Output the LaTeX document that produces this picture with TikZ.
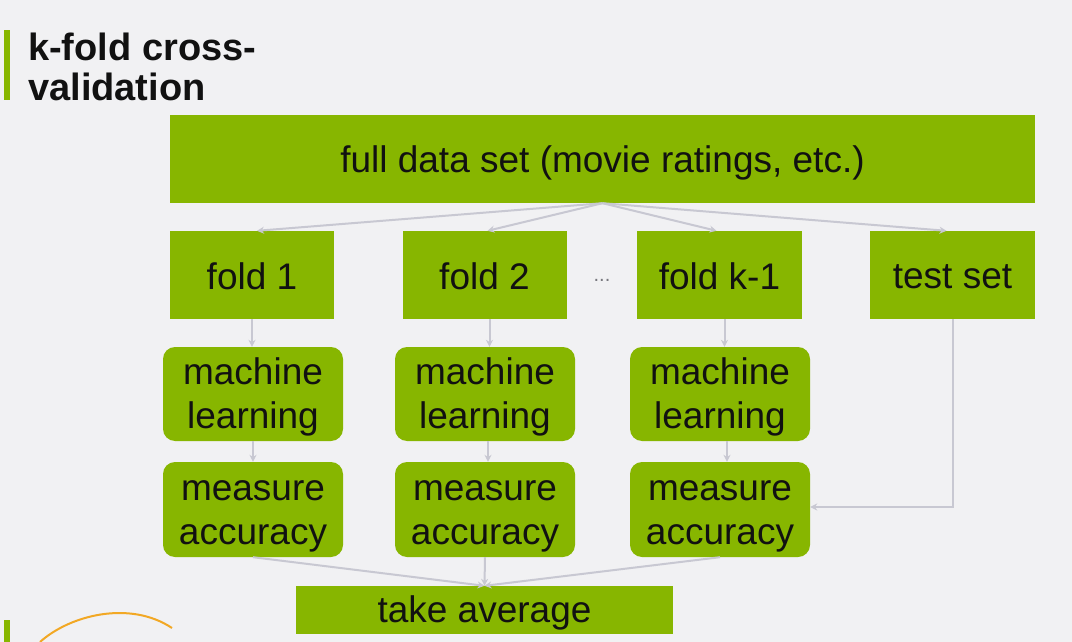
\documentclass[tikz,border=0pt]{standalone}
\usepackage{fontspec}
\setmainfont{Liberation Sans}
\usetikzlibrary{arrows.meta}
\definecolor{bg}{HTML}{F1F1F3}
\definecolor{nvgreen}{HTML}{87B600}
\definecolor{link}{HTML}{C8C8D2}
\definecolor{ink}{HTML}{111111}
\definecolor{ring}{HTML}{F2A824}
\begin{document}
\begin{tikzpicture}[x=1pt,y=-1pt,
  block/.style={fill=nvgreen,draw=none,inner sep=0pt},
  roundblock/.style={block,rounded corners=12pt},
  txt/.style={inner sep=0pt,text=ink,align=center,
    font=\fontsize{37}{43.5}\selectfont},
  titletext/.style={anchor=base west,inner sep=0pt,text=ink,
    font=\fontsize{38}{40}\selectfont\bfseries},
  link/.style={draw=link,line width=2pt,-{Stealth[length=7pt,width=7pt]}}]
\useasboundingbox (0,0) rectangle (1072,642);
\fill[bg] (0,0) rectangle (1072,642);

% title
\fill[nvgreen] (4,30) rectangle (10,100);
\node[titletext] (title1) at (28,61) {k-fold cross-};
\node[titletext] (title2) at (28,101) {validation};

% decorative corner
\fill[nvgreen] (4,620) rectangle (10,642);
\draw[ring,line width=2pt] (40,642) .. controls (70,615) and (130,600) .. (172,628);

% boxes (label text sits slightly below each box centre)
\node[block,minimum width=865pt,minimum height=88pt,
  label={[txt,yshift=-4pt]center:full data set (movie ratings, etc.)}] (full) at (602.5,159) {};
\node[block,minimum width=164pt,minimum height=88pt,
  label={[txt,yshift=-1pt]center:fold 1}] (f1) at (252,275) {};
\node[block,minimum width=164pt,minimum height=88pt,
  label={[txt,yshift=-1pt]center:fold 2}] (f2) at (484.5,275) {};
\node[block,minimum width=165pt,minimum height=88pt,
  label={[txt,yshift=-1pt]center:fold k-1}] (fk) at (719.5,275) {};
\node[block,minimum width=165pt,minimum height=88pt,
  label={[txt,yshift=-2pt]center:test set}] (ts) at (952.5,275) {};
\node[text=link!60!black,font=\fontsize{20}{20}\selectfont] (dots) at (602,280) {...};

\node[roundblock,minimum width=180pt,minimum height=94pt,
  label={[txt,yshift=-3pt]center:machine\\learning}] (ml1) at (253,394) {};
\node[roundblock,minimum width=180pt,minimum height=94pt,
  label={[txt,yshift=-3pt]center:machine\\learning}] (ml2) at (485,394) {};
\node[roundblock,minimum width=180pt,minimum height=94pt,
  label={[txt,yshift=-3pt]center:machine\\learning}] (mlk) at (720,394) {};

\node[roundblock,minimum width=180pt,minimum height=95pt,
  label={[txt,yshift=-7pt]center:measure\\accuracy}] (ma1) at (253,509.5) {};
\node[roundblock,minimum width=180pt,minimum height=95pt,
  label={[txt,yshift=-7pt]center:measure\\accuracy}] (ma2) at (485,509.5) {};
\node[roundblock,minimum width=180pt,minimum height=95pt,
  label={[txt,yshift=-7pt]center:measure\\accuracy}] (mak) at (720,509.5) {};

\node[block,minimum width=377pt,minimum height=48pt,
  label={[txt,yshift=-3pt]center:take average}] (avg) at (484.5,610) {};

% connectors
\coordinate (fs) at (full.south);
\draw[link] (fs) -- ([xshift=5pt]f1.north);
\draw[link] (fs) -- ([xshift=3pt]f2.north);
\draw[link] (fs) -- ([xshift=-3pt]fk.north);
\draw[link] (fs) -- ([xshift=-6pt]ts.north);

\draw[link] (f1.south) -- (f1.south |- ml1.north);
\draw[link] ([xshift=5pt]f2.south) -- ([xshift=5pt]f2.south |- ml2.north);
\draw[link] ([xshift=5pt]fk.south) -- ([xshift=5pt]fk.south |- mlk.north);

\draw[link] (ml1.south) -- (ml1.south |- ma1.north);
\draw[link] ([xshift=3pt]ml2.south) -- ([xshift=3pt]ml2.south |- ma2.north);
\draw[link] ([xshift=7pt]mlk.south) -- ([xshift=7pt]mlk.south |- mak.north);

\draw[link] (ts.south) |- ([yshift=2.5pt]mak.east);

\draw[link] (ma1.south) -- (avg.north);
\draw[link] (ma2.south) -- (avg.north);
\draw[link] (mak.south) -- (avg.north);
\end{tikzpicture}
\end{document}
